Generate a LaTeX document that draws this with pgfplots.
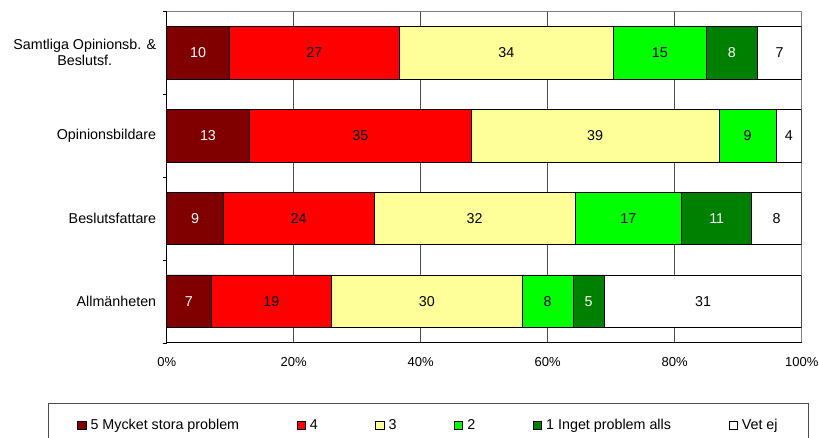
\documentclass[border=0pt]{standalone}
\usepackage{pgfplots}
\pgfplotsset{compat=1.18}
\usepackage{pgfplotstable}
\usepackage{fontspec}
\setmainfont{Liberation Sans}
\definecolor{cA}{HTML}{800000}
\definecolor{cB}{HTML}{FF0000}
\definecolor{cC}{HTML}{FFFF99}
\definecolor{cD}{HTML}{00FF00}
\definecolor{cE}{HTML}{008000}
\definecolor{cF}{HTML}{FFFFFF}
% y: 0 Allmänheten, 1 Beslutsfattare, 2 Opinionsbildare, 3 Samtliga
\pgfplotstableread{
y v
0 6.98
1 8.92
2 13.00
3 9.86
}\sfem
\pgfplotstableread{
y v
0 19.00
1 23.73
2 35.00
3 26.77
}\sfyra
\pgfplotstableread{
y v
0 29.98
1 31.65
2 38.95
3 33.70
}\stre
\pgfplotstableread{
y v
0 8.03
1 16.80
2 9.02
3 14.65
}\stva
\pgfplotstableread{
y v
0 4.93
1 11.03
2 0.00
3 8.03
}\sett
\pgfplotstableread{
y v
0 31.08
1 7.87
2 4.03
3 6.99
}\svet
\begin{document}
\begin{tikzpicture}
\useasboundingbox (0,0) rectangle (819pt,438pt);
\begin{axis}[
  at={(166.7pt,95.3pt)}, anchor=south west,
  scale only axis, width=635pt, height=331.5pt,
  xbar stacked, bar width=0.635,
  xmin=0, xmax=100, ymin=-0.5, ymax=3.5,
  xtick={0,20,40,60,80,100},
  xticklabels={0\%,20\%,40\%,60\%,80\%,100\%},
  ytick={0,1,2,3},
  yticklabels={Allmänheten,Beslutsfattare,Opinionsbildare,{Samtliga Opinionsb. \&\\Beslutsf.}},
  yticklabel style={align=center, font=\fontsize{14.3}{16.5}\selectfont, xshift=-4pt},
  xticklabel style={font=\fontsize{13}{15}\selectfont, yshift=-8pt},
  xtick pos=lower, ytick pos=left,
  minor ytick={-0.5,0.5,1.5,2.5,3.5},
  major y tick style={draw=none},
  major x tick style={draw=none},
  minor y tick style={black},
  tick align=outside,
  major tick length=3pt, minor tick length=4pt,
  xmajorgrids, major grid style={black!70, line width=0.6pt},
  axis line style={gray, line width=0.6pt},
  /pgf/number format/assume math mode=true,
  visualization depends on={\thisrow{v} \as \val},
  nodes near coords={\pgfmathprintnumber[fixed,precision=0,assume math mode=true]{\val}},
  every node near coord/.append style={anchor=center, font=\fontsize{14.3}{16}\selectfont, text=black},
  legend columns=6,
  legend style={at={(-0.187,-0.182)}, anchor=north west, draw=black!70, line width=0.6pt,
    font=\fontsize{14.3}{16}\selectfont, inner xsep=29pt, inner ysep=14pt,
    column sep=0pt,
    /tikz/every odd column/.append style={column sep=2.5pt},
    /tikz/every even column/.append style={column sep=55.5pt}},
  legend image code/.code={\draw[#1, draw=black, line width=0.5pt] (0pt,-4.15pt) rectangle (8.3pt,4.15pt);},
  after end axis/.code={\draw[black, line width=0.8pt] (rel axis cs:0,1) -- (rel axis cs:0,0) -- (rel axis cs:1,0);},
]
\addplot[fill=cA, draw=black, line width=0.6pt, every node near coord/.append style={text=white}] table[x=v,y=y]{\sfem};
\addlegendentry{5 Mycket stora problem}
\addplot[fill=cB, draw=black, line width=0.6pt] table[x=v,y=y]{\sfyra};
\addlegendentry{4}
\addplot[fill=cC, draw=black, line width=0.6pt] table[x=v,y=y]{\stre};
\addlegendentry{3}
\addplot[fill=cD, draw=black, line width=0.6pt] table[x=v,y=y]{\stva};
\addlegendentry{2}
\addplot[fill=cE, draw=black, line width=0.6pt, every node near coord/.append style={text=white}] table[x=v,y=y]{\sett};
\addlegendentry{1 Inget problem alls}
\addplot[fill=cF, draw=black, line width=0.6pt] table[x=v,y=y]{\svet};
\addlegendentry{Vet ej}
\end{axis}
\end{tikzpicture}
\end{document}
